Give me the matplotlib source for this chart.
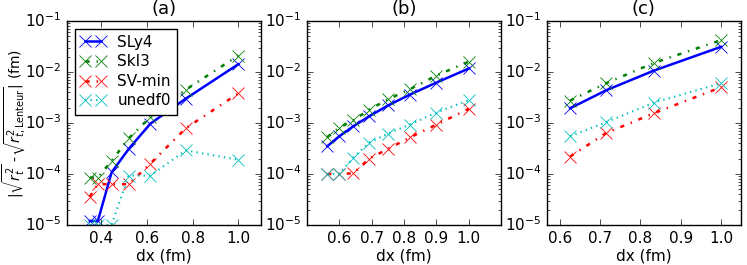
import numpy as np
import matplotlib
matplotlib.use("Agg")
import matplotlib.pyplot as plt

plt.style.use("classic")
plt.rcParams["font.family"] = ["DejaVu Sans"]
plt.rcParams["mathtext.fontset"] = "dejavusans"
plt.rcParams["font.size"] = 11

labels = ["SLy4", "SkI3", "SV-min", "unedf0"]
colors = ["b", "g", "r", "c"]
styles = ["-", "-.", "-.", ":"]
widths = [1.8, 1.8, 1.8, 1.5]

# (a)
dx_a = [0.35, 0.385, 0.445, 0.52, 0.615, 0.77, 1.0]
sly4_a = [1.2e-5, 1.2e-5, 1.07e-4, 3.1e-4, 9.7e-4, 3.0e-3, 1.42e-2]
ski3_a = [8.5e-5, 8.5e-5, 1.8e-4, 5.0e-4, 1.3e-3, 4.5e-3, 2.1e-2]
svmin_a = [3.6e-5, 6.3e-5, 6.3e-5, 6.3e-5, 1.6e-4, 7.9e-4, 3.8e-3]
unedf0_a = [1.0e-5, 1.0e-5, 1.0e-5, 9.3e-5, 9.3e-5, 2.9e-4, 1.9e-4]

# (b)
dx_b = [0.5625, 0.6, 0.643, 0.692, 0.75, 0.818, 0.9, 1.0]
sly4_b = [3.5e-4, 5.5e-4, 8.6e-4, 1.35e-3, 2.2e-3, 3.6e-3, 6.2e-3, 1.17e-2]
ski3_b = [5.3e-4, 8.1e-4, 1.12e-3, 1.83e-3, 2.9e-3, 4.6e-3, 8.5e-3, 1.6e-2]
svmin_b = [1.0e-4, 1.0e-4, 1.03e-4, 2.0e-4, 3.1e-4, 5.2e-4, 9.3e-4, 1.9e-3]
unedf0_b = [1.0e-4, 1.0e-4, 2.1e-4, 4.1e-4, 6.2e-4, 9.3e-4, 1.6e-3, 2.8e-3]

# (c)
dx_c = [0.625, 0.714, 0.833, 1.0]
sly4_c = [1.94e-3, 4.35e-3, 1.06e-2, 3.1e-2]
ski3_c = [2.75e-3, 6.0e-3, 1.5e-2, 4.2e-2]
svmin_c = [2.2e-4, 6.3e-4, 1.55e-3, 5.0e-3]
unedf0_c = [5.5e-4, 1.03e-3, 2.5e-3, 6.0e-3]

panels = [
    ("(a)", dx_a, [sly4_a, ski3_a, svmin_a, unedf0_a], (0.25, 1.1), [0.4, 0.6, 0.8, 1.0]),
    ("(b)", dx_b, [sly4_b, ski3_b, svmin_b, unedf0_b], (0.5, 1.1), [0.6, 0.7, 0.8, 0.9, 1.0]),
    ("(c)", dx_c, [sly4_c, ski3_c, svmin_c, unedf0_c], (0.567, 1.05), [0.6, 0.7, 0.8, 0.9, 1.0]),
]

fig = plt.figure(figsize=(7.47, 2.65), dpi=100, facecolor="white")
lefts = [0.0897, 0.411, 0.732]

for i, (title, dx, series, xlim, xticks) in enumerate(panels):
    ax = fig.add_axes([lefts[i], 0.151, 0.26, 0.77])
    for y, lab, c, ls, lw in zip(series, labels, colors, styles, widths):
        ax.plot(dx, y, color=c, ls=ls, lw=lw, marker="x", ms=9, mew=0.6,
                mec=c, label=lab)
    ax.set_yscale("log")
    ax.set_ylim(1e-5, 1e-1)
    ax.set_xlim(xlim)
    ax.set_xticks(xticks)
    ax.set_xticklabels(["%.1f" % t for t in xticks])
    ax.set_xlabel("dx (fm)", fontsize=11, labelpad=2)
    ax.set_title(title, fontsize=13, y=1.0)
    ax.tick_params(labelsize=11)
    if i == 0:
        ax.set_ylabel(r"$|\sqrt{r_t^2}$ -$\sqrt{r^2_{t,\mathrm{Lenteur}}}|$ (fm)",
                      fontsize=10, labelpad=0)
        ax.yaxis.set_label_coords(-0.2, 0.5)
        ax.legend(loc="upper left", fontsize=11, numpoints=2, handlelength=1.6,
                  borderpad=0.4, labelspacing=0.3, handletextpad=0.8)

fig.savefig("out.png", dpi=100, facecolor="white")
